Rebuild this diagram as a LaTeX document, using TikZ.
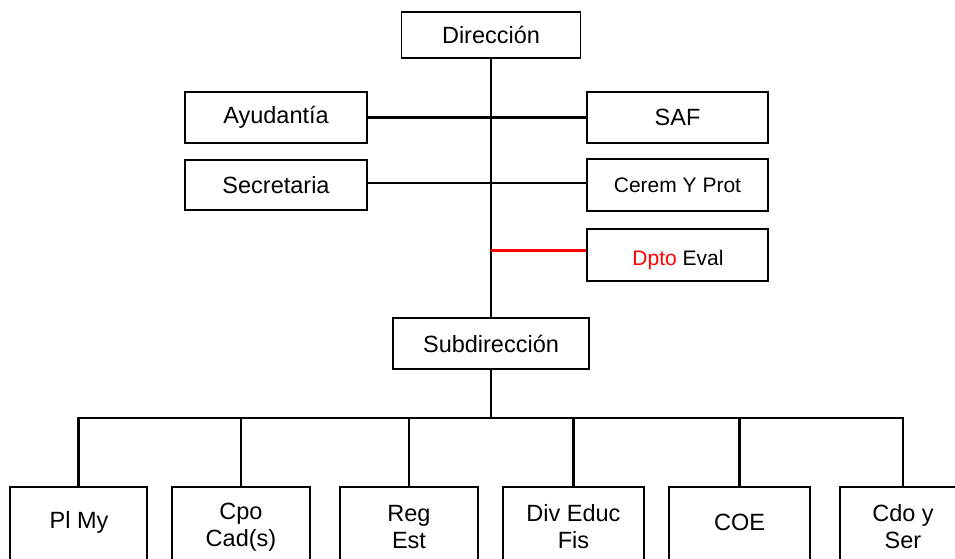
\documentclass[tikz,border=0pt]{standalone}
\usepackage{fontspec}
\setmainfont{Liberation Sans}
\begin{document}
\begin{tikzpicture}[x=1pt,y=-1pt,
  box/.style={draw=black,line width=1.8pt,inner sep=0pt,align=center,
    font=\fontsize{23.5}{27}\selectfont},
  smallbox/.style={box,font=\fontsize{21}{25}\selectfont},
  lowbox/.style={draw=black,line width=1.8pt,inner sep=0pt,minimum width=#1,minimum height=113pt},
  txt/.style={inner sep=0pt,align=center,font=\fontsize{23.5}{27}\selectfont},
  conn/.style={line width=2.4pt,draw=black},
  redconn/.style={line width=3pt,draw=red}]
\useasboundingbox (0,0) rectangle (955,558);
% top level
\node[box,minimum width=179pt,minimum height=46pt] (dir) at (491,35) {Dirección};
\node[box,minimum width=182pt,minimum height=51pt] (ayu) at (276,117.5) {Ayudantía};
\node[box,minimum width=182pt,minimum height=50pt] (sec) at (276,185) {Secretaria};
\node[box,minimum width=181pt,minimum height=51pt] (saf) at (677.5,117.5) {SAF};
\node[smallbox,minimum width=181pt,minimum height=52pt] (cer) at (677.5,185) {Cerem Y Prot};
\node[smallbox,minimum width=181pt,minimum height=52pt] (dpto) at (677.5,255) {};
\node[inner sep=0pt,font=\fontsize{21}{25}\selectfont] (tdpto) at (678,260) {\textcolor{red}{Dpto} Eval};
\node[box,minimum width=196pt,minimum height=51pt] (sub) at (491,343.5) {Subdirección};
% bottom boxes
\node[lowbox=137pt] (plmy) at (78.5,543.5) {};
\node[lowbox=138pt] (cpo) at (241,543.5) {};
\node[lowbox=138pt] (reg) at (409,543.5) {};
\node[lowbox=141pt] (div) at (573.5,543.5) {};
\node[lowbox=141pt] (coe) at (739.5,543.5) {};
\node[lowbox=126pt] (cdo) at (903,543.5) {};
\node[txt] (tplmy) at (79,522) {Pl My};
\node[txt] (tcpo) at (241,527) {Cpo\\Cad(s)};
\node[txt] (treg) at (409,527) {Reg\\Est};
\node[txt] (tdiv) at (573.5,527) {Div Educ\\Fis};
\node[txt] (tcoe) at (739.5,522) {COE};
\node[txt] (tcdo) at (903,527) {Cdo y\\Ser};
% connectors
\coordinate (bus) at (491,418);
\coordinate (dptoin) at ([yshift=5pt]dpto.west);
\coordinate (redstart) at (dir.south |- dptoin);
\draw[conn] (dir.south) -- (sub.north);
\draw[conn] (ayu.east) -- (saf.west);
\draw[conn] ([yshift=2pt]sec.east) -- ([yshift=2pt]cer.west);
\draw[redconn] (redstart) -- (dptoin);
\draw[conn] (sub.south) -- (bus);
\draw[conn] (plmy.north) -- (plmy.north |- bus) -- (cdo.north |- bus) -- (cdo.north);
\draw[conn] (cpo.north) -- (cpo.north |- bus);
\draw[conn] (reg.north) -- (reg.north |- bus);
\draw[conn] (div.north) -- (div.north |- bus);
\draw[conn] (coe.north) -- (coe.north |- bus);
\end{tikzpicture}
\end{document}
